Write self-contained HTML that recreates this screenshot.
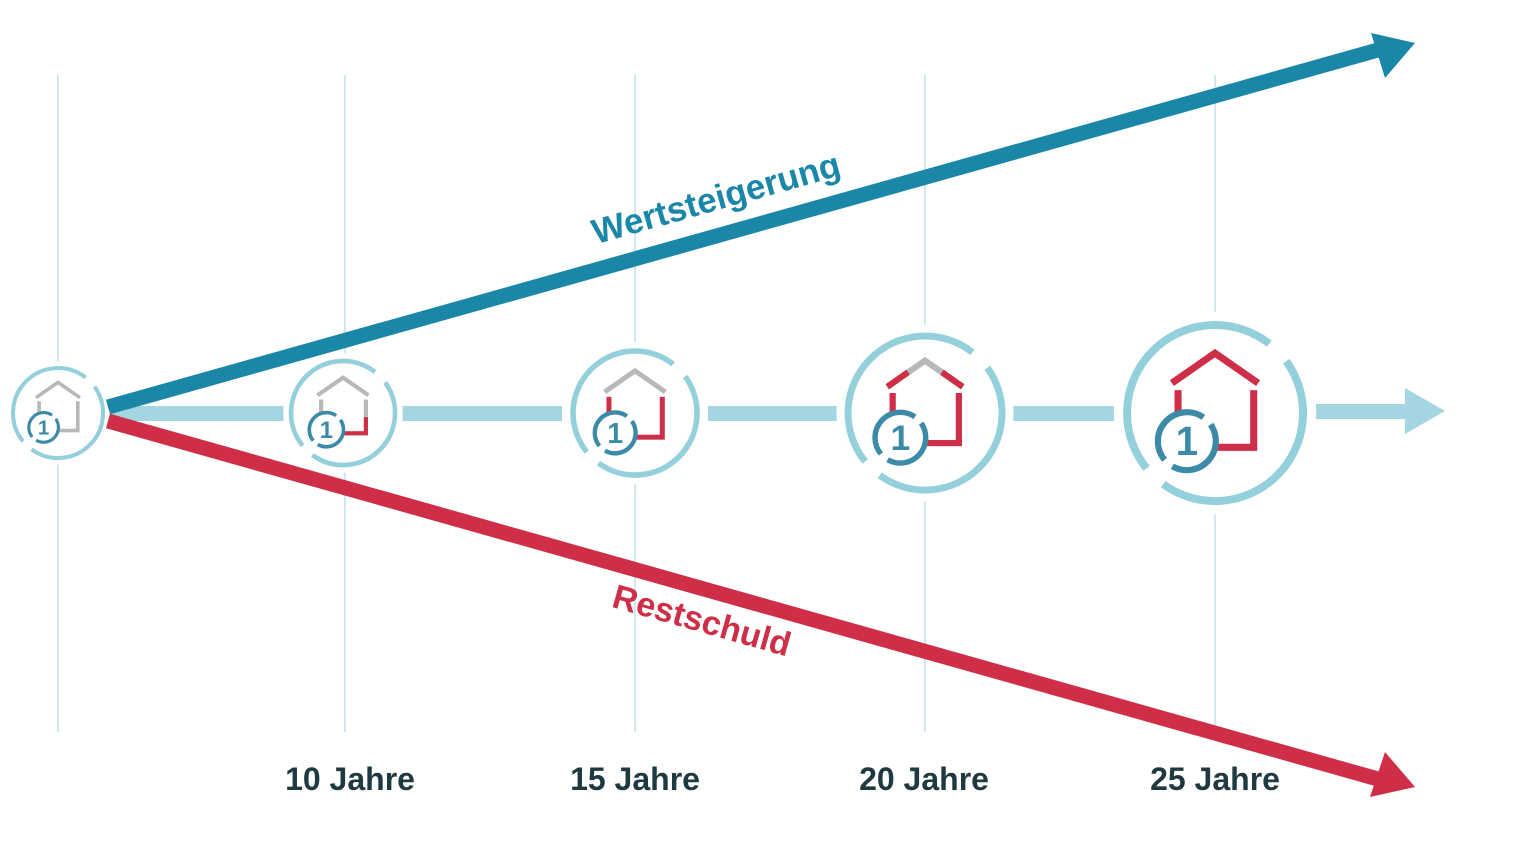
<!DOCTYPE html>
<html><head><meta charset="utf-8"><style>
html,body{margin:0;padding:0;background:#fff;width:1530px;height:847px;overflow:hidden}
svg{display:block}
text{font-family:"Liberation Sans",sans-serif;font-weight:bold}
</style></head><body>
<svg width="1530" height="847" viewBox="0 0 1530 847" xmlns="http://www.w3.org/2000/svg">
<defs>
<g id="ring">
 <circle r="115" fill="#fff"/>
 <path d="M80.9,-58.8 A100,100 0 0 1 -58.8,80.9 M-77.7,62.9 A100,100 0 0 1 61.6,-78.8" fill="none" stroke="#94d0db" stroke-width="9"/>
</g>
<g id="badge">
 <circle cx="-32" cy="32" r="33" fill="#fff"/>
 <path d="M-5,13.1 A33,33 0 0 1 -48.5,60.6 M-57.3,53.2 A33,33 0 0 1 -13.1,5" fill="none" stroke="#3a8aa8" stroke-width="7"/>
 <text x="-32" y="48" font-size="46" fill="#3a8aa8" text-anchor="middle">1</text>
</g>
<g id="houseGray" fill="none" stroke="#b8b8b8" stroke-width="8">
 <path d="M-49,-34 L0,-68 L49,-34"/>
 <path d="M-42,-26 V39 H44 V-26"/>
</g>
</defs>

<g stroke="#cfe7ed" stroke-width="2">
 <line x1="58" y1="75" x2="58" y2="732"/>
 <line x1="345" y1="75" x2="345" y2="732"/>
 <line x1="635" y1="75" x2="635" y2="732"/>
 <line x1="925" y1="75" x2="925" y2="732"/>
 <line x1="1215" y1="75" x2="1215" y2="732"/>
</g>

<g fill="#a3d6e0">
 <rect x="100" y="406" width="185" height="15"/>
 <rect x="402" y="406" width="160" height="15"/>
 <rect x="708" y="406" width="130" height="15"/>
 <rect x="1013" y="406" width="102" height="15"/>
 <rect x="1315" y="404" width="92" height="15"/>
 <polygon points="1405,388 1445,411 1405,434"/>
</g>

<g transform="translate(58,413) scale(0.45)">
 <use href="#ring"/><use href="#houseGray"/><use href="#badge"/>
</g>
<g transform="translate(343,413) scale(0.52)">
 <use href="#ring"/><use href="#houseGray"/>
 <path d="M0,39 H44 V8" fill="none" stroke="#cf2e48" stroke-width="8"/>
 <use href="#badge"/>
</g>
<g transform="translate(635,413) scale(0.62)">
 <use href="#ring"/><use href="#houseGray"/>
 <path d="M-42,-26 V39 H44 V-26" fill="none" stroke="#cf2e48" stroke-width="8"/>
 <use href="#badge"/>
</g>
<g transform="translate(925,413) scale(0.77)">
 <use href="#ring"/><use href="#houseGray"/>
 <path d="M-42,-26 V39 H44 V-26 M-49,-34 L-22,-53 M49,-34 L22,-53" fill="none" stroke="#cf2e48" stroke-width="8"/>
 <use href="#badge"/>
</g>
<g transform="translate(1215,413) scale(0.88)">
 <use href="#ring"/>
 <path d="M-42,-26 V39 H44 V-26 M-49,-34 L0,-68 L49,-34" fill="none" stroke="#cf2e48" stroke-width="8"/>
 <use href="#badge"/>
</g>

<line x1="108" y1="407" x2="1385" y2="48" stroke="#1b87a8" stroke-width="15"/>
<polygon points="1415,43 1371,33 1385,78" fill="#1b87a8"/>
<line x1="108" y1="421" x2="1385" y2="781" stroke="#cf2e48" stroke-width="15"/>
<polygon points="1415,787 1385,752 1370,797" fill="#cf2e48"/>

<text x="716" y="210" font-size="35" fill="#1b87a8" text-anchor="middle" transform="rotate(-15.7 716 198)">Wertsteigerung</text>
<text x="702" y="632" font-size="34" fill="#cf2e48" text-anchor="middle" transform="rotate(15.8 702 620)">Restschuld</text>

<g font-size="32" fill="#1e3a40" text-anchor="middle">
 <text x="350" y="790">10 Jahre</text>
 <text x="635" y="790">15 Jahre</text>
 <text x="924" y="790">20 Jahre</text>
 <text x="1215" y="790">25 Jahre</text>
</g>
</svg>
</body></html>
